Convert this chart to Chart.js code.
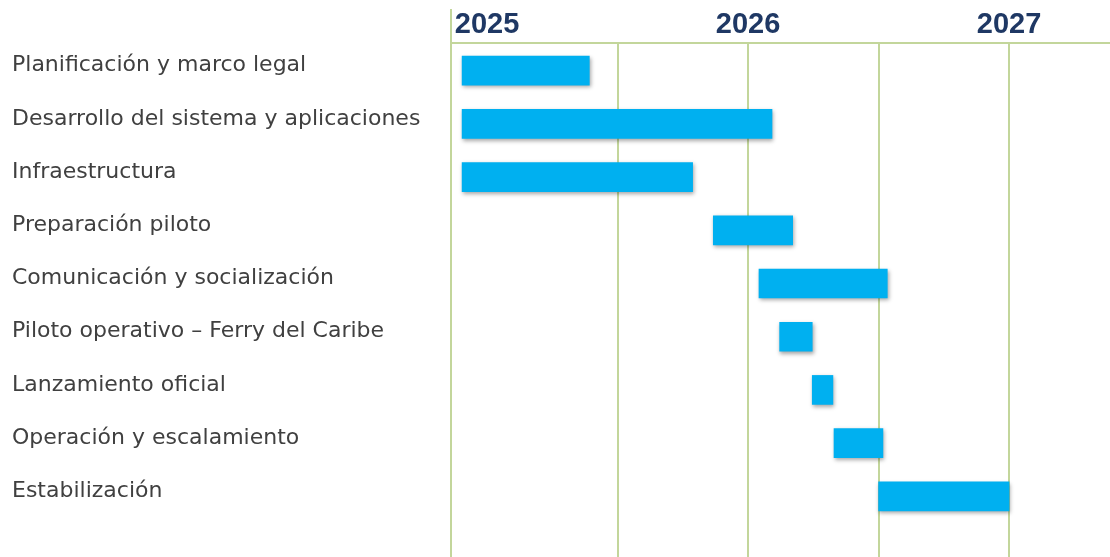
<!DOCTYPE html>
<html>
<head>
<meta charset="utf-8">
<script src="https://cdn.jsdelivr.net/npm/chart.js@4"></script>
<style>
  html, body { margin: 0; padding: 0; background: #ffffff; overflow: hidden; }
  #wrap { width: 1110px; height: 557px; position: relative; }
</style>
</head>
<body>
<div id="wrap"><canvas id="c"></canvas></div>
<script>
// Tasks (rows, top to bottom)
const categories = [
  'Planificación y marco legal',
  'Desarrollo del sistema y aplicaciones',
  'Infraestructura',
  'Preparación piloto',
  'Comunicación y socialización',
  'Piloto operativo – Ferry del Caribe',
  'Lanzamiento oficial',
  'Operación y escalamiento',
  'Estabilización'
];
// Months counted from January 2025 (0 = Jan 2025, 12 = Jan 2026, 24 = Jan 2027)
const startMonths = [-1.15, -1.15, -1.15, 10.4, 12.5, 13.45, 14.95, 15.95, 18.0];
const endMonths   = [ 4.7, 13.1,  9.45, 14.05, 18.4, 14.95, 15.9, 18.2, 24.0];
// Top axis
const yearTicks  = [0, 12, 24];
const yearLabels = ['2025', '2026', '2027'];
const gridMonths = [6, 12, 18, 24];
const axisMin = -1.66;
const axisMax = 28.64;

const GRID = '#c3d69b';
const BAR = '#00b0f0';

const shadowPlugin = {
  id: 'barShadow',
  beforeDatasetsDraw(chart) {
    const ctx = chart.ctx;
    ctx.save();
    ctx.shadowColor = 'rgba(0,0,0,0.35)';
    ctx.shadowBlur = 4;
    ctx.shadowOffsetX = 1;
    ctx.shadowOffsetY = 2;
  },
  afterDatasetsDraw(chart) {
    chart.ctx.restore();
  }
};

const data = categories.map((c, i) => ({ y: i, x: [startMonths[i], endMonths[i]] }));

new Chart(document.getElementById('c'), {
  type: 'bar',
  data: {
    datasets: [{
      data: data,
      backgroundColor: BAR,
      borderWidth: 0,
      borderSkipped: false,
      barThickness: 29
    }]
  },
  options: {
    indexAxis: 'y',
    responsive: true,
    maintainAspectRatio: false,
    animation: false,
    layout: { padding: { left: 12, top: 0, right: 0, bottom: 0 } },
    plugins: { legend: { display: false }, tooltip: { enabled: false } },
    scales: {
      x: {
        type: 'linear',
        position: 'top',
        min: axisMin,
        max: axisMax,
        offset: false,
        afterBuildTicks(scale) {
          const vals = [axisMin].concat([0], gridMonths);
          scale.ticks = vals.map(v => ({ value: v }));
        },
        afterFit(scale) {
          scale.height = 43;
          scale.paddingLeft = 0;
          scale.paddingRight = 0;
        },
        grid: {
          display: true,
          drawTicks: true,
          tickLength: 34,
          lineWidth: 2,
          tickWidth: 2,
          color: (ctx) => {
            const v = ctx.tick ? ctx.tick.value : null;
            return (v === axisMin || gridMonths.includes(v)) ? GRID : 'rgba(0,0,0,0)';
          },
          tickColor: (ctx) => {
            const v = ctx.tick ? ctx.tick.value : null;
            return v === axisMin ? GRID : 'rgba(0,0,0,0)';
          }
        },
        border: { display: true, color: GRID, width: 2 },
        ticks: {
          autoSkip: false,
          maxRotation: 0,
          padding: -33.5,
          color: '#1f3864',
          font: { family: 'Liberation Sans', size: 29, weight: 'bold' },
          callback: (value) => {
            const k = yearTicks.indexOf(value);
            return k >= 0 ? yearLabels[k] : '';
          }
        }
      },
      y: {
        type: 'linear',
        reverse: true,
        offset: false,
        min: -0.52,
        max: 9.14,
        afterBuildTicks(scale) {
          scale.ticks = categories.map((c, i) => ({ value: i }));
        },
        afterFit(scale) {
          scale.width = 439;
          scale.paddingTop = 0;
          scale.paddingBottom = 0;
        },
        grid: { display: false, drawTicks: false, offset: false },
        border: { display: true, color: GRID, width: 2 },
        ticks: {
          crossAlign: 'far',
          autoSkip: false,
          labelOffset: -5,
          color: '#404040',
          font: { family: 'DejaVu Sans', size: 22 },
          callback: (value) => categories[value] !== undefined ? categories[value] : ''
        }
      }
    }
  },
  plugins: [shadowPlugin]
});
</script>
</body>
</html>
